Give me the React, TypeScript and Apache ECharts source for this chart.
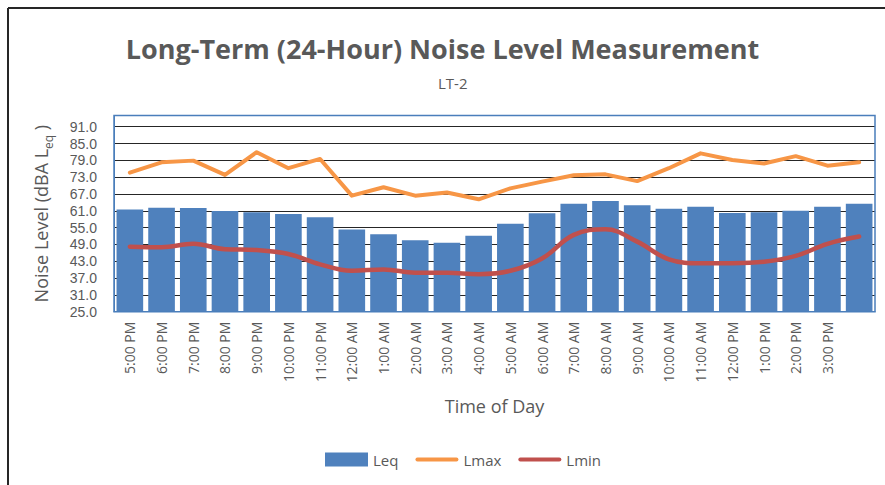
import { useEffect, useRef } from "react";
import * as echarts from "echarts";

const categories = [
  "5:00 PM", "6:00 PM", "7:00 PM", "8:00 PM", "9:00 PM", "10:00 PM", "11:00 PM",
  "12:00 AM", "1:00 AM", "2:00 AM", "3:00 AM", "4:00 AM", "5:00 AM", "6:00 AM",
  "7:00 AM", "8:00 AM", "9:00 AM", "10:00 AM", "11:00 AM", "12:00 PM", "1:00 PM",
  "2:00 PM", "3:00 PM", "",
];
const leq = [61.5, 62.1, 62.0, 60.9, 60.5, 59.9, 58.7, 54.3, 52.6, 50.5, 49.6, 52.1, 56.4, 60.1, 63.5, 64.5, 63.0, 61.7, 62.4, 60.2, 60.5, 61.0, 62.4, 63.5];
const lmax = [74.6, 78.3, 78.9, 73.8, 81.9, 76.2, 79.5, 66.4, 69.4, 66.4, 67.5, 65.1, 69.0, 71.4, 73.7, 74.0, 71.6, 76.2, 81.5, 79.1, 77.9, 80.5, 77.1, 78.3];
const lmin = [48.2, 48.0, 49.2, 47.3, 47.0, 45.6, 41.9, 39.6, 40.1, 38.9, 38.9, 38.4, 39.6, 44.0, 52.4, 54.4, 50.0, 43.7, 42.3, 42.3, 42.8, 44.9, 49.2, 51.8];
const yMin = 25;
const yMax = 95;
const yStep = 6;

const FONT = "'Open Sans', 'Noto Sans', sans-serif";
const TICK_FONT = "'Liberation Sans', Arial, sans-serif";
const GRAY = "#595959";
const BLUE = "#4f81bd";
const LINE_ICON = "path://M0,0 M43,14 M2,5 L41,5 A2,2 0 0 1 41,9 L2,9 A2,2 0 0 1 2,5 Z";

export default function App() {
  const ref = useRef<HTMLDivElement>(null);
  useEffect(() => {
    if (!ref.current) return;
    const chart = echarts.init(ref.current, null, { renderer: "svg" });
    const gl = 114, gr = 10, gt = 115.5, gb = 173.3;
    const W = 885, H = 485;
    chart.setOption({
      animation: false,
      backgroundColor: "#fff",
      textStyle: { fontFamily: FONT },
      title: [
        {
          text: "Long-Term (24-Hour) Noise Level Measurement",
          left: "center",
          top: 27,
          textStyle: { fontFamily: FONT, fontWeight: "bold", fontSize: 27, color: GRAY, lineHeight: 32 },
        },
        {
          text: "LT-2",
          left: 433,
          top: 68,
          textStyle: { fontFamily: FONT, fontWeight: "normal", fontSize: 15, color: GRAY, lineHeight: 20 },
        },
      ],
      legend: {
        left: 320,
        top: 447,
        itemWidth: 43,
        itemHeight: 14,
        itemGap: 17,
        textStyle: { fontFamily: FONT, fontSize: 15, color: GRAY },
        data: [
          { name: "Leq", icon: "rect" },
          { name: "Lmax", icon: LINE_ICON },
          { name: "Lmin", icon: LINE_ICON },
        ],
      },
      grid: { left: gl, right: gr, top: gt, bottom: gb },
      xAxis: {
        type: "category",
        data: categories,
        name: "Time of Day",
        nameLocation: "middle",
        nameGap: 85,
        nameTextStyle: { fontFamily: FONT, fontSize: 18, color: GRAY },
        axisLine: { show: true, lineStyle: { color: BLUE } },
        axisTick: { show: false },
        axisLabel: { interval: 0, rotate: 90, margin: 10, fontSize: 14, color: GRAY, fontFamily: FONT },
      },
      yAxis: {
        type: "value",
        min: yMin,
        max: yMax,
        interval: yStep,
        name: "{n|Noise Level (dBA L}{s|eq}{n| )}",
        nameLocation: "middle",
        nameRotate: 90,
        nameGap: 60,
        nameTextStyle: {
          rich: {
            n: { fontFamily: FONT, fontSize: 18, color: GRAY, lineHeight: 26 },
            s: { fontFamily: FONT, fontSize: 12, color: GRAY, lineHeight: 14, verticalAlign: "bottom" },
          },
        },
        axisLine: { show: true, lineStyle: { color: BLUE } },
        axisTick: { show: false },
        axisLabel: {
          showMaxLabel: false,
          fontSize: 14,
          lineHeight: 15,
          color: GRAY,
          fontFamily: TICK_FONT,
          margin: 17,
          formatter: (v: number) => (v === yMax ? "" : v.toFixed(1)),
        },
        splitLine: { show: true, lineStyle: { color: "#262626", width: 1 } },
      },
      series: [
        {
          name: "Leq",
          type: "bar",
          data: leq,
          barCategoryGap: "16%",
          itemStyle: { color: BLUE },
          z: 2,
        },
        {
          name: "Lmax",
          type: "line",
          data: lmax,
          symbol: "none",
          lineStyle: { color: "#f79646", width: 4, cap: "round", join: "round" },
          itemStyle: { color: "#f79646" },
          z: 3,
        },
        {
          name: "Lmin",
          type: "line",
          data: lmin,
          smooth: 0.4,
          symbol: "none",
          lineStyle: { color: "#c0504d", width: 4.5, cap: "round", join: "round" },
          itemStyle: { color: "#c0504d" },
          z: 3,
        },
      ],
      graphic: [
        {
          type: "rect",
          silent: true,
          z: 100,
          shape: { x: gl, y: gt, width: W - gl - gr, height: H - gt - gb },
          style: { fill: "none", stroke: "#4a7ebb", lineWidth: 1.5 },
        },
        {
          type: "line",
          silent: true,
          z: 100,
          shape: { x1: 8, y1: 8, x2: W, y2: 8 },
          style: { stroke: "#262626", lineWidth: 2 },
        },
        {
          type: "line",
          silent: true,
          z: 100,
          shape: { x1: 8, y1: 8, x2: 8, y2: H },
          style: { stroke: "#262626", lineWidth: 2 },
        },
      ],
    });
    return () => chart.dispose();
  }, []);
  return <div ref={ref} style={{ position: "fixed", left: 0, top: 0, width: 885, height: 485 }} />;
}
